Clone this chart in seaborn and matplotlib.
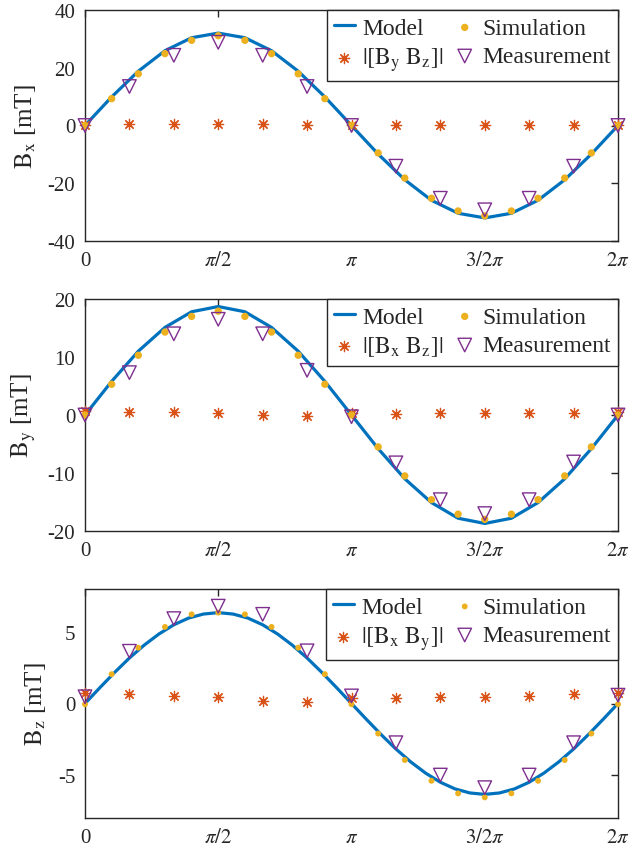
import numpy as np
import pandas as pd
import matplotlib
matplotlib.use("Agg")
import matplotlib.pyplot as plt
import seaborn as sns

# ---------------- data ----------------
# angles in degrees
model_deg_xy = [0, 18, 36, 54, 72, 90, 108, 126, 144, 162, 180, 198, 216, 234, 252,
                270, 288, 306, 324, 342, 360]
model_deg_z = [0, 10, 20, 30, 40, 50, 60, 70, 80, 90, 100, 110, 120, 130, 140, 150,
               160, 170, 180, 190, 200, 210, 220, 230, 240, 250, 260, 270, 280, 290,
               300, 310, 320, 330, 340, 350, 360]
sim_deg = [0, 18, 36, 54, 72, 90, 108, 126, 144, 162, 180, 198, 216, 234, 252,
           270, 288, 306, 324, 342, 360]
meas_deg = [0, 30, 60, 90, 120, 150, 180, 210, 240, 270, 300, 330, 360]

# Bx panel
model_bx = [0, 9.9, 18.8, 25.9, 30.4, 32.0, 30.4, 25.9, 18.8, 9.9, 0,
            -9.9, -18.8, -25.9, -30.4, -32.0, -30.4, -25.9, -18.8, -9.9, 0]
sim_bx = [0, 9.3, 17.9, 24.9, 29.5, 31.1, 29.5, 24.9, 17.9, 9.3, 0,
          -9.5, -18.2, -25.2, -29.6, -31.3, -29.6, -25.2, -18.2, -9.5, 0]
meas_bx = [0, 13.5, 24.3, 28.8, 24.3, 13.5, 0, -14.1, -25.2, -29.2, -25.2, -14.1, 0]
rest_bx = [0.3, 0.4, 0.4, 0.4, 0.4, 0.3, 0.2, 0.2, 0.2, 0.2, 0.2, 0.2, 0.3]

# By panel
model_by = [0, 5.8, 11.0, 15.1, 17.8, 18.7, 17.8, 15.1, 11.0, 5.8, 0,
            -5.8, -11.0, -15.1, -17.8, -18.7, -17.8, -15.1, -11.0, -5.8, 0]
sim_by = [0, 5.3, 10.3, 14.3, 17.0, 17.9, 17.0, 14.3, 10.3, 5.3, 0,
          -5.5, -10.5, -14.6, -17.1, -18.0, -17.1, -14.6, -10.5, -5.5, 0]
meas_by = [0, 7.3, 14.0, 16.5, 14.0, 7.7, -0.3, -8.25, -14.6, -17.0, -14.6, -8.1, 0]
rest_by = [0.7, 0.6, 0.5, 0.3, 0.0, -0.1, 0.3, 0.25, 0.3, 0.3, 0.35, 0.4, 0.5]

# Bz panel
model_bz = [0, 1.10, 2.17, 3.18, 4.08, 4.86, 5.50, 5.97, 6.25, 6.35, 6.25, 5.97, 5.50,
            4.86, 4.08, 3.18, 2.17, 1.10, 0, -1.10, -2.17, -3.18, -4.08, -4.86, -5.50,
            -5.97, -6.25, -6.35, -6.25, -5.97, -5.50, -4.86, -4.08, -3.18, -2.17, -1.10, 0]
sim_bz = [-0.05, 2.05, 3.9, 5.35, 6.23, 6.35, 6.23, 5.35, 3.9, 2.05, -0.05,
          -2.1, -3.95, -5.4, -6.28, -6.56, -6.28, -5.4, -3.95, -2.1, -0.05]
meas_bz = [0.47, 3.65, 5.93, 6.8, 6.23, 3.68, 0.53, -2.74, -5.0, -5.88, -5.0, -2.74, 0.58]
rest_bz = [0.75, 0.65, 0.53, 0.42, 0.16, 0.07, 0.35, 0.35, 0.42, 0.47, 0.53, 0.63, 0.7]

xtick_labels = ['0', r'$\pi/2$', r'$\pi$', r'$3/2\pi$', r'$2\pi$']

# ---------------- styling ----------------
sns.set_theme(style="white")
plt.rcParams['font.family'] = ['Liberation Serif', 'DejaVu Serif']
plt.rcParams['mathtext.fontset'] = 'stix'
plt.rcParams['axes.unicode_minus'] = False

C_MODEL = '#0072BD'
C_REST = '#D95319'
C_SIM = '#EDB120'
C_MEAS = '#7E2F8E'
C_AX = '#262626'

fig = plt.figure(figsize=(6.42, 8.54), dpi=100)
W, H = 642, 854
def pos(top, bottom, left=85, right=618):
    return [left / W, 1 - bottom / H, (right - left) / W, (bottom - top) / H]

panels = [
    dict(rect=pos(11, 242), model=model_bx, mdeg=model_deg_xy, sim=sim_bx, meas=meas_bx,
         rest=rest_bx, ylim=(-40, 40), yticks=[-40, -20, 0, 20, 40],
         ylabel=r'$\mathrm{B}_\mathrm{x}$ [mT]',
         restlabel=r'$|[\mathrm{B}_\mathrm{y}\ \mathrm{B}_\mathrm{z}]|$', simsize=28),
    dict(rect=pos(300, 532), model=model_by, mdeg=model_deg_xy, sim=sim_by, meas=meas_by,
         rest=rest_by, ylim=(-20, 20), yticks=[-20, -10, 0, 10, 20],
         ylabel=r'$\mathrm{B}_\mathrm{y}$ [mT]',
         restlabel=r'$|[\mathrm{B}_\mathrm{x}\ \mathrm{B}_\mathrm{z}]|$', simsize=28),
    dict(rect=pos(590, 819), model=model_bz, mdeg=model_deg_z, sim=sim_bz, meas=meas_bz,
         rest=rest_bz, ylim=(-8, 8), yticks=[-5, 0, 5],
         ylabel=r'$\mathrm{B}_\mathrm{z}$ [mT]',
         restlabel=r'$|[\mathrm{B}_\mathrm{x}\ \mathrm{B}_\mathrm{y}]|$', simsize=18),
]

for p in panels:
    ax = fig.add_axes(p['rect'])
    xm = np.deg2rad(p['mdeg'])
    xs = np.deg2rad(sim_deg)
    xmeas = np.deg2rad(meas_deg)

    sns.lineplot(x=xm, y=p['model'], ax=ax, color=C_MODEL, linewidth=2.3,
                 label='Model', sort=False, zorder=2)
    sns.scatterplot(x=xmeas, y=p['rest'], ax=ax, marker=(8, 2, 0), s=55,
                    color=C_REST, edgecolor=C_REST, linewidth=0.9,
                    label=p['restlabel'], zorder=3, clip_on=False)
    sns.scatterplot(x=xs, y=p['sim'], ax=ax, marker='o', s=p['simsize'],
                    color=C_SIM, edgecolor='none', linewidth=0,
                    label='Simulation', zorder=4, clip_on=False)
    ax.scatter(xmeas, p['meas'], marker='v', s=95, facecolors='none',
               edgecolors=C_MEAS, linewidths=1.0, label='Measurement', zorder=5,
               clip_on=False)

    ax.set_xlim(0, 2 * np.pi)
    ax.set_ylim(*p['ylim'])
    ax.set_xticks([0, np.pi / 2, np.pi, 1.5 * np.pi, 2 * np.pi])
    ax.set_xticklabels(xtick_labels)
    ax.set_yticks(p['yticks'])
    ax.tick_params(direction='in', top=True, right=True, length=5, width=1.0,
                   colors=C_AX, labelsize=15, pad=7)
    for s in ax.spines.values():
        s.set_color(C_AX)
        s.set_linewidth(1.0)
    ax.set_ylabel(p['ylabel'], fontsize=18, color=C_AX, labelpad=7)

    h, l = ax.get_legend_handles_labels()
    leg = ax.legend(h, l, ncol=2, loc='upper right', borderaxespad=0,
                    fontsize=17, frameon=True, fancybox=False, framealpha=1,
                    edgecolor=C_AX, handlelength=0.9, handletextpad=0.3,
                    columnspacing=0.45, labelspacing=0.3, borderpad=0.3)
    leg.get_frame().set_linewidth(1.0)
    leg.set_zorder(10)

fig.savefig('out.png', dpi=100)
